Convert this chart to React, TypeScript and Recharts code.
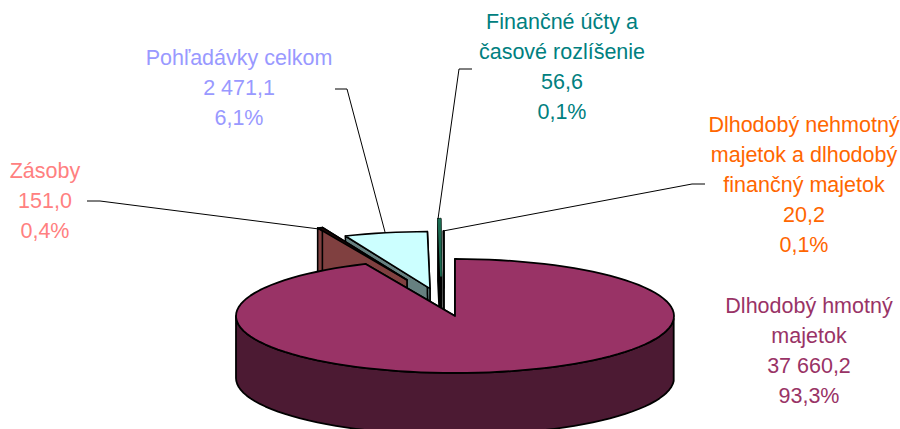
import React from "react";
import { PieChart, Pie } from "recharts";

// Drawn back to front, counter-clockwise from 12 o'clock.
const categories = [
  "Dlhodobý nehmotný majetok a dlhodobý finančný majetok",
  "Finančné účty a časové rozlíšenie",
  "Pohľadávky celkom",
  "Zásoby",
  "Dlhodobý hmotný majetok",
];
const values = [20.2, 56.6, 2471.1, 151.0, 37660.2];
const valueLabels = ["20,2", "56,6", "2 471,1", "151,0", "37 660,2"];
const percentLabels = ["0,1%", "0,1%", "6,1%", "0,4%", "93,3%"];
const nameLines = [
  ["Dlhodobý nehmotný", "majetok a dlhodobý", "finančný majetok"],
  ["Finančné účty a", "časové rozlíšenie"],
  ["Pohľadávky celkom"],
  ["Zásoby"],
  ["Dlhodobý hmotný", "majetok"],
];

const topColors = ["#008066", "#33A080", "#CCFFFF", "#200808", "#993366"];
const wallColors = ["#0A2A20", "#000000", "#668080", "#804040", "#4C1A33"];
const textColors = ["#FF6600", "#008080", "#9999FF", "#FF8080", "#993366"];
const wallStrokeWidths = [1.4, 2.6, 1.6, 1.6, 1.8];
const topStrokeWidths = [1.4, 1.7, 1.6, 1.6, 1.8];
const topStrokes = ["#000000", "#1A6A50", "#000000", "#000000", "#000000"];
const explode = [
  [-11, -28],
  [-14, -40],
  [-25, -27.4],
  [-48, -36],
  [0, 0],
];
const labelAnchors = [
  { x: 804, y: 132 },
  { x: 562, y: 29 },
  { x: 239, y: 65 },
  { x: 45, y: 178 },
  { x: 809, y: 313 },
];
const leaders = [
  "705,184 692,184 443,231",
  "472,69 459,69 438,219",
  "335,89 347,89 385,232",
  "87,201 100,201 319,229",
  "",
];

const SQUASH = 57 / 219;
const DEPTH = 62;
const RAD = Math.PI / 180;

type Pt = [number, number];
const toPath = (pts: Pt[]) =>
  "M" + pts.map((p) => `${p[0].toFixed(2)},${p[1].toFixed(2)}`).join("L") + "Z";

function Slice3D(props: any) {
  const { cx, cy, outerRadius, startAngle, endAngle, index } = props;
  const [dx, dy] = explode[index];
  const ox = cx + dx;
  const oy = cy + dy;
  const at = (deg: number, h = 0): Pt => [
    ox + outerRadius * Math.cos(deg * RAD),
    oy - outerRadius * SQUASH * Math.sin(deg * RAD) + h,
  ];
  const lo = Math.min(startAngle, endAngle);
  const hi = Math.max(startAngle, endAngle);
  const steps = Math.max(2, Math.ceil((hi - lo) / 3));
  const arc: number[] = [];
  for (let i = 0; i <= steps; i++) arc.push(lo + ((hi - lo) * i) / steps);

  const top: Pt[] = [[ox, oy], ...arc.map((a) => at(a))];
  const face = (deg: number): Pt[] => [
    [ox, oy],
    at(deg),
    at(deg, DEPTH),
    [ox, oy + DEPTH],
  ];
  const front = arc.filter((a) => Math.sin(a * RAD) <= 0.0001);
  const outer: Pt[] =
    front.length > 1
      ? [
          ...front.map((a) => at(a)),
          ...front
            .slice()
            .reverse()
            .map((a) => at(a, DEPTH)),
        ]
      : [];
  const wallStyle = {
    stroke: "#000000",
    strokeWidth: wallStrokeWidths[index],
    strokeLinejoin: "round" as const,
  };
  return (
    <g>
      <path d={toPath(face(hi))} fill={wallColors[index]} {...wallStyle} />
      <path d={toPath(face(lo))} fill={wallColors[index]} {...wallStyle} />
      {outer.length > 0 && (
        <path d={toPath(outer)} fill={wallColors[index]} {...wallStyle} />
      )}
      <path
        d={toPath(top)}
        fill={topColors[index]}
        stroke={topStrokes[index]}
        strokeWidth={topStrokeWidths[index]}
        strokeLinejoin="round"
      />
    </g>
  );
}

function SliceLabel(props: any) {
  const { index } = props;
  const a = labelAnchors[index];
  const lines = [...nameLines[index], valueLabels[index], percentLabels[index]];
  return (
    <g>
      {leaders[index] && (
        <polyline
          points={leaders[index]}
          fill="none"
          stroke="#000000"
          strokeWidth={1}
        />
      )}
      {lines.map((t, i) => (
        <text
          key={i}
          x={a.x}
          y={a.y + i * 30.1}
          textAnchor="middle"
          fill={textColors[index]}
          fontFamily="'Liberation Sans', Arial, sans-serif"
          fontSize={21.5}
        >
          {t}
        </text>
      ))}
    </g>
  );
}

const data = categories.map((name, i) => ({ name, value: values[i] }));

export default function App() {
  return (
    <div style={{ position: "absolute", left: 0, top: 0, width: 900, height: 429 }}>
      <PieChart
        width={900}
        height={429}
        margin={{ top: 0, right: 0, bottom: 0, left: 0 }}
      >
        <Pie
          data={data}
          dataKey="value"
          nameKey="name"
          cx={455}
          cy={316}
          innerRadius={0}
          outerRadius={219}
          startAngle={90}
          endAngle={450}
          paddingAngle={0}
          stroke="none"
          isAnimationActive={false}
          shape={Slice3D}
          label={SliceLabel}
          labelLine={false}
        />
      </PieChart>
    </div>
  );
}
